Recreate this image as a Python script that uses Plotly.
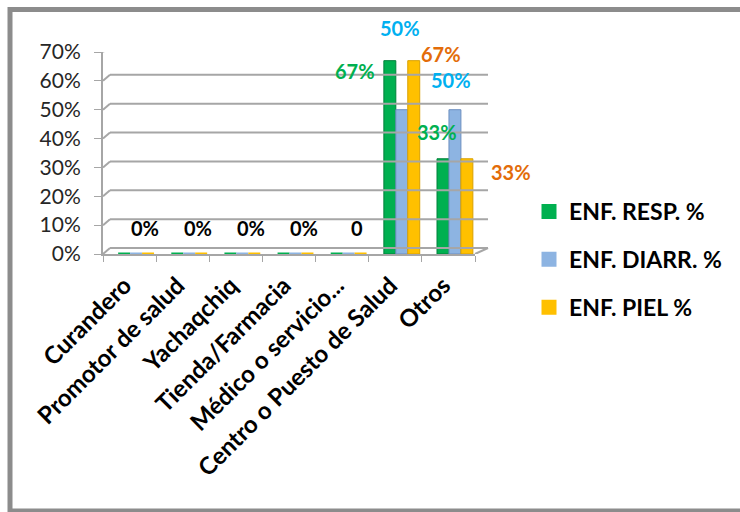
import plotly.graph_objects as go

# ---------------- data ----------------
categories = ["Curandero", "Promotor de salud", "Yachaqchiq", "Tienda/Farmacia",
              "Médico o servicio...", "Centro o Puesto de Salud", "Otros"]
series_names = ["ENF. RESP. %", "ENF. DIARR. %", "ENF. PIEL %"]
resp = [0, 0, 0, 0, 0, 0.67, 0.33]
diarr = [0, 0, 0, 0, 0, 0.50, 0.50]
piel = [0, 0, 0, 0, 0, 0.67, 0.33]
y_ticks = [0, 0.1, 0.2, 0.3, 0.4, 0.5, 0.6, 0.7]
y_tick_labels = ["0%", "10%", "20%", "30%", "40%", "50%", "60%", "70%"]
zero_labels = ["0%", "0%", "0%", "0%", "0"]
resp_labels = ["67%", "33%"]
diarr_labels = ["50%", "50%"]
piel_labels = ["67%", "33%"]

# ---------------- style ----------------
W, H = 740, 512
PL, PB_PAGE = 103, 254          # plot-area left / bottom in page pixels
PW, PH = 372, 202
L, T = PL, PB_PAGE - PH
R, B = W - L - PW, H - T - PH
FONT = "Lato"
fill_colors = ["#00b050", "#8db4e2", "#ffc000"]
edge_colors = ["#00813a", "#6d8fbf", "#d9a000"]
label_colors = ["#00b050", "#00b0f0", "#e36c09"]
bar_offsets = [-0.215, 0.01, 0.235]
bar_width = 0.225
grid_color = "#a6a6a6"


def px_x(px):
    return (px - PL) / PW


def px_y(py):
    return (PB_PAGE - py) / PH


fig = go.Figure()
for name, vals, fc, ec, off in zip(series_names, [resp, diarr, piel], fill_colors,
                                   edge_colors, bar_offsets):
    fig.add_trace(go.Bar(
        x=categories, y=vals, name=name, legendgroup=name,
        offset=off, width=bar_width,
        marker=dict(color=fc,
                    line=dict(color=[fc if v == 0 else ec for v in vals],
                              width=[3 if v == 0 else 1 for v in vals])),
    ))

shapes = []
for v in y_ticks:
    shapes.append(dict(type="line", xref="paper", yref="y", ysizemode="pixel", yanchor=v,
                       x0=px_x(110), x1=px_x(488), y0=6, y1=6,
                       line=dict(color=grid_color, width=2)))
    shapes.append(dict(type="line", xref="paper", yref="y", ysizemode="pixel", yanchor=v,
                       x0=0, x1=px_x(110), y0=0, y1=6,
                       line=dict(color=grid_color, width=2)))
shapes.append(dict(type="line", xref="paper", yref="y", ysizemode="pixel", yanchor=0,
                   x0=1, x1=px_x(488), y0=0, y1=6,
                   line=dict(color=grid_color, width=2)))
# outer frame (top, left, bottom edges; right edge lies outside the picture)
frame = dict(color="#8c8c8c", width=5)
shapes.append(dict(type="line", xref="paper", yref="paper", x0=px_x(8), x1=px_x(760),
                   y0=px_y(9.5), y1=px_y(9.5), line=frame, layer="below"))
shapes.append(dict(type="line", xref="paper", yref="paper", x0=px_x(10), x1=px_x(10),
                   y0=px_y(7), y1=px_y(513), line=frame, layer="below"))
shapes.append(dict(type="line", xref="paper", yref="paper", x0=px_x(8), x1=px_x(760),
                   y0=px_y(511), y1=px_y(511), line=frame, layer="below"))

annotations = []
for i, t in enumerate(zero_labels):
    annotations.append(dict(x=categories[i], y=resp[i], text="<b>%s</b>" % t, showarrow=False,
                            xshift=15, yshift=26,
                            font=dict(family=FONT, size=20, color="black")))

offsets = {
    0: [(-40, -10), (-11, 27)],
    1: [(5, 82), (3, 30)],
    2: [(46, 7), (63, -13)],
}
for s, (vals, labs) in enumerate(zip([resp, diarr, piel], [resp_labels, diarr_labels, piel_labels])):
    for k, ci in enumerate([5, 6]):
        dx, dy = offsets[s][k]
        annotations.append(dict(x=categories[ci], y=vals[ci], text="<b>%s</b>" % labs[k],
                                showarrow=False, xshift=dx, yshift=dy,
                                font=dict(family=FONT, size=20, color=label_colors[s])))

fig.update_layout(
    width=W, height=H,
    margin=dict(l=L, r=R, t=T, b=B, pad=0, autoexpand=False),
    paper_bgcolor="white", plot_bgcolor="white",
    barmode="group",
    font=dict(family=FONT, color="black"),
    shapes=shapes, annotations=annotations,
    legend=dict(x=px_x(529), y=px_y(190), xanchor="left", yanchor="top",
                font=dict(family=FONT, size=23, color="black", weight="bold"),
                tracegroupgap=15, traceorder="grouped", bgcolor="rgba(0,0,0,0)"),
    xaxis=dict(type="category", range=[-0.5, 6.5], autorange=False, tickangle=-45,
               tickson="boundaries", ticks="outside", layer="below traces",
               ticklen=6, tickcolor=grid_color, showline=True, linecolor=grid_color, linewidth=2,
               showgrid=False, ticklabelstandoff=6, ticklabelshift=-5,
               tickfont=dict(family=FONT, size=24, color="black", weight="bold")),
    yaxis=dict(range=[0, 0.7], autorange=False, tickvals=y_ticks, ticktext=y_tick_labels,
               ticks="outside", ticklabelstandoff=9,
               ticklen=7, tickcolor=grid_color, showline=True, linecolor=grid_color, linewidth=2,
               showgrid=False, zeroline=False,
               tickfont=dict(family=FONT, size=21, color="#262626")),
)

fig.write_html("out.html", config={"displayModeBar": False},
               post_script="document.body.style.margin='0';document.body.style.overflow='hidden';")
